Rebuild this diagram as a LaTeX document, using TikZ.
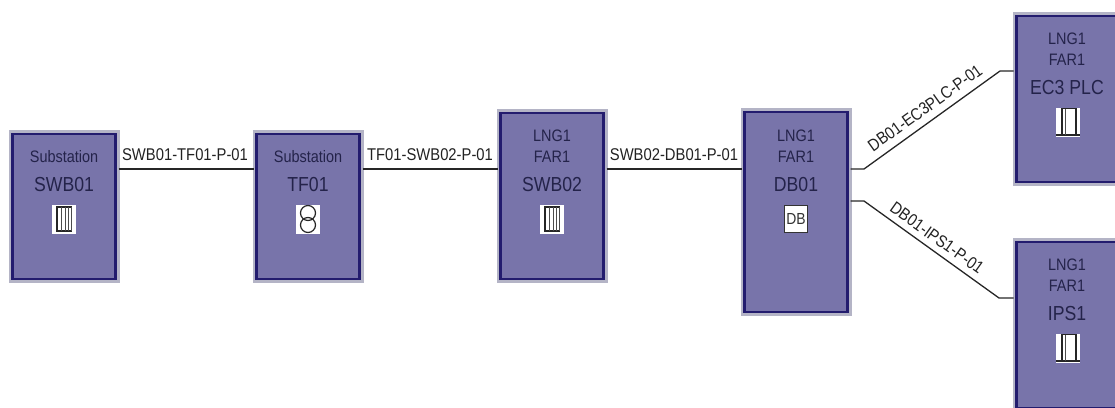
\documentclass[tikz,border=0pt]{standalone}
\usepackage{fontspec}
\setmainfont{Liberation Sans}
\newfontfamily\narrowfont[FakeStretch=0.87]{Liberation Sans}
\definecolor{boxfill}{HTML}{7874AA}
\definecolor{boxline}{HTML}{231C6E}
\definecolor{halo}{HTML}{B4B4C6}
\definecolor{boxtext}{HTML}{24234A}
\definecolor{wiretext}{HTML}{222222}
\tikzset{
  x=1pt,y=-1pt,
  unitbox/.style={draw=boxline,line width=2.6pt,fill=boxfill,minimum width=103pt,inner sep=0pt,outer sep=3pt,
    preaction={draw=halo,line width=8pt}},
  smalltext/.style={text=boxtext,font=\narrowfont\fontsize{16.6}{18}\selectfont,inner sep=0pt},
  bigtext/.style={text=boxtext,font=\narrowfont\fontsize{20.3}{22}\selectfont,inner sep=0pt},
  wire/.style={draw=black!85,line width=1.3pt},
  wirelabel/.style={text=wiretext,font=\narrowfont\fontsize{17}{19}\selectfont,inner sep=0pt},
  iconbox/.style={fill=white,minimum width=24pt,minimum height=29pt,inner sep=0pt},
  iconline/.style={draw=black!85,line width=1.2pt},
  iconthin/.style={draw=black!70,line width=.7pt},
  pics/swbicon/.style={code={
    \draw[iconline] (-8,-12.5)--(8,-12.5) (-8,11.5)--(8,11.5);
    \draw[iconline] (-7,-12.5)--(-7,11.5);
    \draw[iconthin] (-3,-12.5)--(-3,11.5) (1,-12.5)--(1,11.5) (4,-12.5)--(4,11.5) (7,-12.5)--(7,11.5);
  }},
  pics/tficon/.style={code={
    \draw[iconline] (0,-6.5) circle[radius=7.5];
    \draw[iconline] (0,5.5) circle[radius=7.5];
  }},
  pics/plcicon/.style={code={
    \draw[iconline] (-12,13)--(12,13);
    \draw[iconline,line width=1.6pt] (-6,13)--(-6,-13.5)--(8,-13.5)--(8,13);
    \draw[iconthin] (-3,13)--(-3,-13.5);
  }},
}
\begin{document}
\begin{tikzpicture}
\useasboundingbox (0,0) rectangle (1115,407);
\clip (0,0) rectangle (1115,407);
% boxes
\node[unitbox,minimum height=145pt] (swbA) at (64,206.5) {};
\node[unitbox,minimum height=145pt] (tf) at (308,206.5) {};
\node[unitbox,minimum height=166pt] (swbB) at (552,196) {};
\node[unitbox,minimum height=200pt] (db) at (796,212) {};
\node[unitbox,minimum height=166pt] (plc) at (1068,99) {};
\node[unitbox,minimum height=166pt] (ips) at (1068,325) {};
% texts
\node[smalltext] (t1a) at (64,157) {Substation};
\node[bigtext] (t1b) at (64,185) {SWB01};
\node[smalltext] (t2a) at (308,157) {Substation};
\node[bigtext] (t2b) at (308,185) {TF01};
\node[smalltext] (t3a) at (552,136) {LNG1};
\node[smalltext] (t3b) at (552,157) {FAR1};
\node[bigtext] (t3c) at (552,185) {SWB02};
\node[smalltext] (t4a) at (796,136) {LNG1};
\node[smalltext] (t4b) at (796,157) {FAR1};
\node[bigtext] (t4c) at (796,185) {DB01};
\node[smalltext] (t5a) at (1067,39) {LNG1};
\node[smalltext] (t5b) at (1067,60) {FAR1};
\node[bigtext] (t5c) at (1067,88) {EC3 PLC};
\node[smalltext] (t6a) at (1067,265) {LNG1};
\node[smalltext] (t6b) at (1067,286) {FAR1};
\node[bigtext] (t6c) at (1067,314) {IPS1};
% icons
\node[iconbox] (i1) at (64,219.5) {}; \pic at (i1) {swbicon};
\node[iconbox] (i2) at (308,219.5) {}; \pic at (i2) {tficon};
\node[iconbox] (i3) at (552,219.5) {}; \pic at (i3) {swbicon};
\node[iconbox,draw=black!80,line width=1.2pt,minimum width=23pt,minimum height=27pt,text=black!80,font=\narrowfont\fontsize{16}{17}\selectfont] (i4) at (796,219) {DB};
\node[iconbox] (i5) at (1068,122) {}; \pic at (i5) {plcicon};
\node[iconbox] (i6) at (1068,348) {}; \pic at (i6) {plcicon};
% connectors
\draw[wire] ([yshift=37.5pt]swbA.east) -- ([yshift=37.5pt]tf.west);
\draw[wire] ([yshift=37.5pt]tf.east) -- ([yshift=27pt]swbB.west);
\draw[wire] ([yshift=27pt]swbB.east) -- ([yshift=43pt]db.west);
\coordinate (b1) at (864,169);
\coordinate (b2) at (1000,71);
\coordinate (b3) at (864,201);
\coordinate (b4) at (999,298);
\draw[wire] ([yshift=43pt]db.east) -- (b1) -- (b2) -- ([yshift=28pt]plc.west);
\draw[wire] ([yshift=11pt]db.east) -- (b3) -- (b4) -- ([yshift=27pt]ips.west);
% labels
\node[wirelabel] (l1) at (185,155) {SWB01-TF01-P-01};
\node[wirelabel] (l2) at (430,155) {TF01-SWB02-P-01};
\node[wirelabel] (l3) at (674,155) {SWB02-DB01-P-01};
\node[wirelabel,rotate=35.5] (l4) at (925,108) {DB01-EC3PLC-P-01};
\node[wirelabel,rotate=-35.5] (l5) at (937,238) {DB01-IPS1-P-01};
\end{tikzpicture}
\end{document}
